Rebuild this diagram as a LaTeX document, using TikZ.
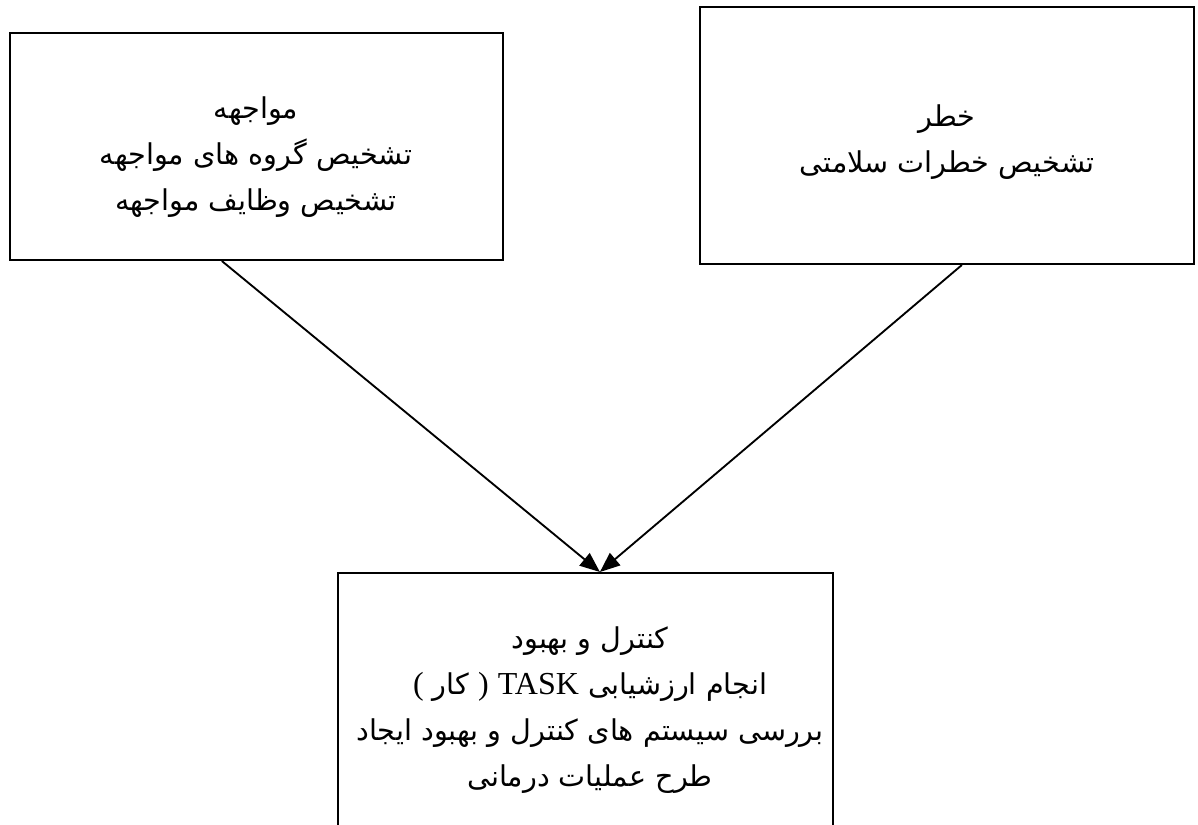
\documentclass[tikz,border=0pt]{standalone}
\usepackage{fontspec}
\setmainfont{Liberation Serif}
\newfontfamily\arabicfont[Script=Arabic]{DejaVu Sans}
\TeXXeTstate=1
\usetikzlibrary{arrows.meta,calc,fit}
\newcommand\lat[1]{{\rmfamily\fontsize{24}{34}\selectfont #1}}
\begin{document}
\begin{tikzpicture}[x=0.75pt,y=-0.75pt,
  box/.style={draw,line width=1.5pt,rectangle,inner sep=0pt},
  txt/.style={align=center,inner sep=0pt,font=\arabicfont\fontsize{21.5}{34.5}\selectfont},
  conn/.style={line width=1.4pt,-{Triangle[length=15pt,width=12pt]}}]
\useasboundingbox (0,0) rectangle (1198,824);
\clip (0,0) rectangle (1198,824);
% boxes
\node[box,fit={(10,33) (503,260)}] (exp) {};
\node[box,fit={(700,7) (1194,264)}] (haz) {};
\node[box,fit={(338,573) (833,900)}] (ctl) {};
% texts
\node[txt] (expt) at (256,157) {\beginR مواجهه\endR\\
  \beginR تشخیص گروه های مواجهه\endR\\
  \beginR تشخیص وظایف مواجهه\endR};
\node[txt] (hazt) at (947,142) {\beginR خطر\endR\\
  \beginR تشخیص خطرات سلامتی\endR};
\node[txt,anchor=north] (ctlt) at (590,626) {\beginR کنترل و بهبود\endR\\
  \beginR انجام ارزشیابی \beginL\lat{TASK}\endL{} \lat{)} کار \lat{(}\endR\\
  \beginR بررسی سیستم های کنترل و بهبود ایجاد\endR\\
  \beginR طرح عملیات درمانی\endR};
% connectors
\draw[conn] ($(exp.south west)!0.43!(exp.south east)$) -- ($(ctl.north west)!0.529!(ctl.north east)$);
\draw[conn] ($(haz.south west)!0.53!(haz.south east)$) -- ($(ctl.north west)!0.529!(ctl.north east)$);
\end{tikzpicture}
\end{document}
